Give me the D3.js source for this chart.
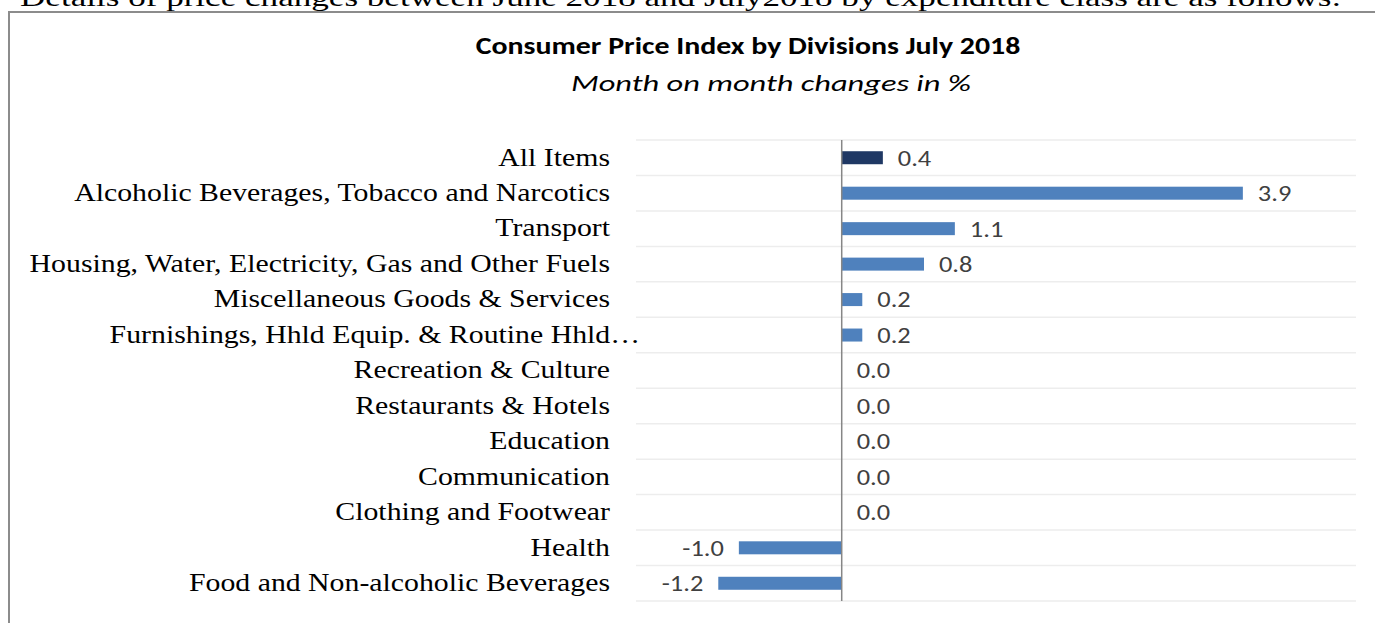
<!DOCTYPE html>
<html>
<head>
<meta charset="utf-8">
<title>Consumer Price Index by Divisions July 2018</title>
<script src="https://d3js.org/d3.v7.min.js"></script>
<style>
    body { margin: 0; background: #fff; }
    svg { display: block; }
</style>
</head>
<body>
<div id="container"></div>
<script>
// Data
const categories = [
    "All Items",
    "Alcoholic Beverages, Tobacco and Narcotics",
    "Transport",
    "Housing, Water, Electricity, Gas and Other Fuels",
    "Miscellaneous Goods & Services",
    "Furnishings, Hhld Equip. & Routine Hhld\u2026",
    "Recreation & Culture",
    "Restaurants & Hotels",
    "Education",
    "Communication",
    "Clothing and Footwear",
    "Health",
    "Food and Non-alcoholic Beverages"
]
const values = [0.4, 3.9, 1.1, 0.8, 0.2, 0.2, 0.0, 0.0, 0.0, 0.0, 0.0, -1.0, -1.2]
const xDomain = [-2, 5]

const w = 1375
const h = 623
const serif = "Liberation Serif, Times New Roman, serif"
const sans = "Carlito, Lato, sans-serif"

// The source picture is stretched sideways, so text is widened around its anchor
const stretch = (x, sx) => `translate(${x},0) scale(${sx},1) translate(${-x},0)`

const svg = d3.select("#container")
    .append("svg")
    .attr("width", w)
    .attr("height", h)

// Intro sentence, cut by the page top
svg.append("text")
    .attr("x", 20)
    .attr("y", 6)
    .attr("transform", stretch(20, 1.35))
    .attr("font-family", serif)
    .attr("font-size", 26)
    .attr("fill", "#000")
    .text("Details of price changes between June 2018 and July2018 by expenditure class are as follows:")

// Chart frame (left and top edges only are in view)
svg.append("path")
    .attr("d", `M9,${h} V12 H${w}`)
    .attr("fill", "none")
    .attr("stroke", "#8c8c8c")
    .attr("stroke-width", 2)

// Titles
svg.append("text")
    .attr("x", 748)
    .attr("y", 54)
    .attr("transform", stretch(748, 1.245))
    .attr("text-anchor", "middle")
    .attr("font-family", sans)
    .attr("font-weight", "bold")
    .attr("font-size", 24)
    .attr("fill", "#000")
    .text("Consumer Price Index by Divisions July 2018")

svg.append("text")
    .attr("x", 771)
    .attr("y", 91)
    .attr("transform", stretch(771, 1.41))
    .attr("text-anchor", "middle")
    .attr("font-family", sans)
    .attr("font-style", "italic")
    .attr("font-size", 23)
    .attr("fill", "#000")
    .text("Month on month changes in %")

// Scales
const xScale = d3.scaleLinear()
    .domain(xDomain)
    .range([636, 1356])

const yScale = d3.scaleBand()
    .domain(categories)
    .range([140, 601])
    .paddingInner(0)

// Gridlines at band edges
const gridY = categories.map(c => yScale(c)).concat([yScale.range()[1]])
svg.append("g")
    .selectAll("line")
    .data(gridY)
    .enter()
    .append("line")
    .attr("x1", xScale(xDomain[0]))
    .attr("x2", xScale(xDomain[1]))
    .attr("y1", d => d)
    .attr("y2", d => d)
    .attr("stroke", "#ededed")
    .attr("stroke-width", 1.5)

// Bars
const barH = 13
svg.append("g")
    .selectAll("rect")
    .data(values)
    .enter()
    .append("rect")
    .attr("x", d => xScale(Math.min(0, d)))
    .attr("y", (d, i) => yScale(categories[i]) + yScale.bandwidth() / 2 - barH / 2)
    .attr("width", d => Math.abs(xScale(d) - xScale(0)))
    .attr("height", barH)
    .attr("fill", (d, i) => i === 0 ? "#1f3864" : "#4f81bd")

// Zero axis
svg.append("line")
    .attr("x1", xScale(0))
    .attr("x2", xScale(0))
    .attr("y1", yScale.range()[0])
    .attr("y2", yScale.range()[1])
    .attr("stroke", "#868686")
    .attr("stroke-width", 1.5)

// Category labels
const labelSx = 1.146
const yAxis = d3.axisLeft(yScale).tickSize(0).tickPadding(0)
const axisG = svg.append("g")
    .attr("transform", `translate(610,0) scale(${labelSx},1)`)
    .call(yAxis)
axisG.select(".domain").remove()
axisG.selectAll("text")
    .attr("font-family", serif)
    .attr("font-size", 26)
    .attr("fill", "#000")
    .attr("dy", "0.3em")
    .attr("dx", d => d.endsWith("\u2026") ? 30 / labelSx : 0)

// Value labels
const fmt = d => d3.format(".1f")(d).replace("\u2212", "-")
const labelX = d => d < 0 ? xScale(d) - 15 : xScale(d) + 15
svg.append("g")
    .selectAll("text")
    .data(values)
    .enter()
    .append("text")
    .attr("x", labelX)
    .attr("y", (d, i) => yScale(categories[i]) + yScale.bandwidth() / 2)
    .attr("transform", d => stretch(labelX(d), 1.2))
    .attr("dy", "0.36em")
    .attr("text-anchor", d => d < 0 ? "end" : "start")
    .attr("font-family", sans)
    .attr("font-size", 22)
    .attr("fill", "#404040")
    .text(fmt)
</script>
</body>
</html>
